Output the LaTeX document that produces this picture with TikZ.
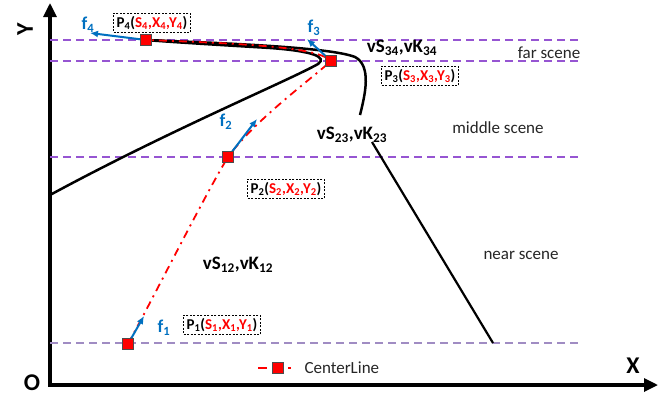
\documentclass[tikz,border=0pt]{standalone}
\usepackage{fontspec}
\setmainfont{Carlito}
\usetikzlibrary{arrows.meta,positioning}
\definecolor{sceneline}{RGB}{150,85,210}
\definecolor{nearline}{RGB}{160,140,195}
\definecolor{forceblue}{RGB}{0,112,192}
\definecolor{centerred}{RGB}{255,0,0}

\begin{document}
\begin{tikzpicture}[
  x=1pt, y=-1pt,
  font=\fontsize{17}{19}\selectfont,
  axis/.style={-{Triangle[length=14pt,width=13pt]}, line width=3.2pt},
  scene/.style={sceneline, dash pattern=on 8pt off 5pt, line width=1.2pt},
  bound/.style={line width=2.5pt},
  centerline/.style={centerred, line width=1.8pt, dash pattern=on 8pt off 5pt on 2pt off 5pt},
  ptmark/.style={draw=black!70, fill=centerred, minimum size=11pt, inner sep=0pt, line width=0.9pt},
  force/.style={-{Latex[length=8pt,width=7pt]}, forceblue, line width=2pt},
  flabel/.style={forceblue, font=\fontsize{18}{20}\selectfont\bfseries},
  region/.style={font=\fontsize{19}{21}\selectfont\bfseries},
  tagbox/.style={draw, dash pattern=on 2pt off 1.5pt, line width=0.7pt, inner sep=3pt, font=\fontsize{15}{17}\selectfont\bfseries},
  axlabel/.style={font=\fontsize{24}{26}\selectfont\bfseries},
  note/.style={text=black!85}
]
\useasboundingbox (0,0) rectangle (672,402);

\coordinate (O) at (50,385);
\coordinate (xend) at (658,385);
\coordinate (yend) at (50,3);
\draw[axis] (48.4,385) -- (xend);
\draw[axis] (O) -- (yend);
\node[axlabel] (olab) at (32,383) {O};
\node[axlabel] (xlab) at (633,366) {X};
\node[axlabel, rotate=90] (ylab) at (25,29) {Y};

\draw[scene] (50,40) -- (580,40);
\draw[scene] (50,61) -- (580,61);
\draw[scene] (50,157) -- (580,157);
\draw[scene, nearline] (50,343) -- (580,343);

\draw[bound] (50,195) .. controls (170,130) and (290,80) .. (318,64)
  .. controls (328,57) and (312,51) .. (270,48)
  .. controls (220,45) and (170,42) .. (146,40);
\draw[bound] (146,40) .. controls (220,43) and (330,47) .. (355,57)
  .. controls (372,66) and (365,95) .. (360,115);
\draw[bound, line width=2.2pt] (372,142) -- (493,343);

\coordinate (c1) at (128,344);
\coordinate (c2) at (228,157);
\coordinate (c3) at (331,61);
\coordinate (c4) at (146,40);
\draw[centerline] (c1) .. controls (160,285) and (205,195) .. (c2)
  .. controls (255,120) and (310,80) .. (c3)
  .. controls (318,48) and (260,44) .. (c4);

\coordinate (f1tip) at (144,316);
\coordinate (f2tip) at (257,119);
\coordinate (f3tip) at (307,39);
\coordinate (f4tip) at (90,33);
\draw[force] (c1) -- (f1tip);
\draw[force] (c2) -- (f2tip);
\draw[force] (c3) -- (f3tip);
\draw[force] (c4) -- (f4tip);

\node[ptmark] (p1) at (c1) {};
\node[ptmark] (p2) at (c2) {};
\node[ptmark] (p3) at (c3) {};
\node[ptmark] (p4) at (c4) {};

\node[flabel] (f1) at (164,328) {f\textsubscript{1}};
\node[flabel] (f2) at (226,122) {f\textsubscript{2}};
\node[flabel] (f3) at (314,28) {f\textsubscript{3}};
\node[flabel] (f4) at (88,25) {f\textsubscript{4}};

\node[tagbox] (t1) at (222,325) {P\textsubscript{1}(\textcolor{centerred}{S\textsubscript{1},X\textsubscript{1},Y\textsubscript{1}})};
\node[tagbox] (t2) at (286,189) {P\textsubscript{2}(\textcolor{centerred}{S\textsubscript{2},X\textsubscript{2},Y\textsubscript{2}})};
\node[tagbox] (t3) at (420,76) {P\textsubscript{3}(\textcolor{centerred}{S\textsubscript{3},X\textsubscript{3},Y\textsubscript{3}})};
\node[tagbox] (t4) at (152,23) {P\textsubscript{4}(\textcolor{centerred}{S\textsubscript{4},X\textsubscript{4},Y\textsubscript{4}})};

\node[region] (r34) at (402,48) {vS\textsubscript{34},vK\textsubscript{34}};
\node[region] (r23) at (352,135) {vS\textsubscript{23},vK\textsubscript{23}};
\node[region] (r12) at (238,265) {vS\textsubscript{12},vK\textsubscript{12}};

\node[note] (far) at (549,53) {far scene};
\node[note] (middle) at (498,128) {middle scene};
\node[note] (near) at (521,255) {near scene};

\coordinate (lega) at (258,368);
\coordinate (legb) at (291,368);
\draw[centerline, dash pattern=on 9pt off 6pt] (lega) -- (legb);
\node[ptmark] (legmark) at (278,368) {};
\node[note, anchor=west] (legtext) at (301,368) {CenterLine};
\end{tikzpicture}
\end{document}
